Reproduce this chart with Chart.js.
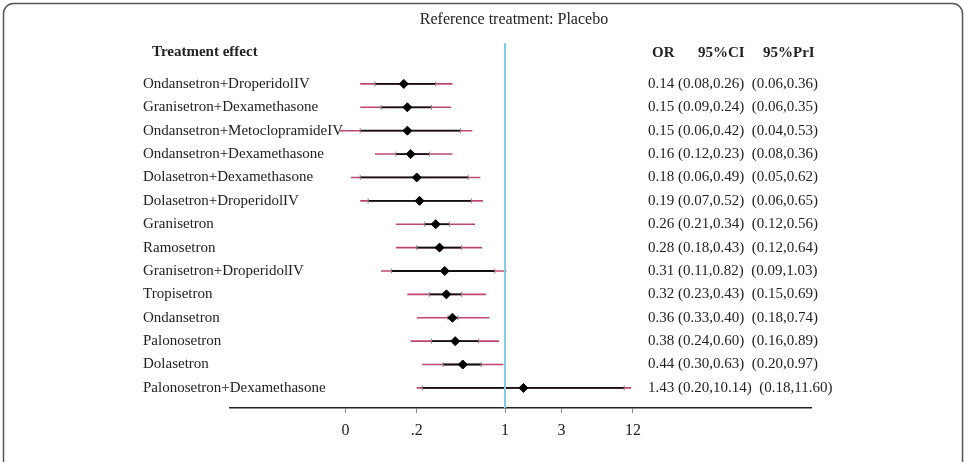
<!DOCTYPE html>
<html>
<head>
<meta charset="utf-8">
<title>Reference treatment: Placebo</title>
<script src="https://cdn.jsdelivr.net/npm/chart.js@4.4.1/dist/chart.umd.min.js"></script>
<style>
    html, body { margin: 0; padding: 0; background: #fff; overflow: hidden; }
    #forest-chart { display: block; }
</style>
</head>
<body>
<canvas id="forest-chart" width="965" height="462"></canvas>
<script>
// Treatments, top to bottom
const treatments = [
    'Ondansetron+DroperidolIV',
    'Granisetron+Dexamethasone',
    'Ondansetron+MetoclopramideIV',
    'Ondansetron+Dexamethasone',
    'Dolasetron+Dexamethasone',
    'Dolasetron+DroperidolIV',
    'Granisetron',
    'Ramosetron',
    'Granisetron+DroperidolIV',
    'Tropisetron',
    'Ondansetron',
    'Palonosetron',
    'Dolasetron',
    'Palonosetron+Dexamethasone'
];

// Odds ratios vs placebo
const oddsRatio = [0.14, 0.15, 0.15, 0.16, 0.18, 0.19, 0.26, 0.28, 0.31, 0.32, 0.36, 0.38, 0.44, 1.43];
// 95% confidence interval
const ciLow  = [0.08, 0.09, 0.06, 0.12, 0.06, 0.07, 0.21, 0.18, 0.11, 0.23, 0.33, 0.24, 0.30, 0.20];
const ciHigh = [0.26, 0.24, 0.42, 0.23, 0.49, 0.52, 0.34, 0.43, 0.82, 0.43, 0.40, 0.60, 0.63, 10.14];
// 95% prediction interval
const priLow  = [0.06, 0.06, 0.04, 0.08, 0.05, 0.06, 0.12, 0.12, 0.09, 0.15, 0.18, 0.16, 0.20, 0.18];
const priHigh = [0.36, 0.35, 0.53, 0.36, 0.62, 0.65, 0.56, 0.64, 1.03, 0.69, 0.74, 0.89, 0.97, 11.60];

// X axis ticks (log scale) and their labels
const tickValues = [0.045, 0.18, 1, 3, 12];
const tickLabels = ['0', '.2', '1', '3', '12'];

const FONT = "'Liberation Serif', 'DejaVu Serif', serif";

// Axis range
const xMin = 0.00478;
const xMax = 382;
const yMin = -1.75;
const yMax = 13.86;

/**
 * Frame, title, headers and the OR / CI / PrI column
 */
const forestText = {
    id: 'forestText',
    beforeDraw(chart) {
        const ctx = chart.ctx;
        ctx.save();
        ctx.fillStyle = '#fff';
        ctx.fillRect(0, 0, chart.width, chart.height);
        ctx.strokeStyle = '#555';
        ctx.lineWidth = 1.5;
        ctx.beginPath();
        ctx.roundRect(3.5, 3.5, 959, 520, 10);
        ctx.stroke();
        ctx.restore();
    },
    afterDatasetsDraw(chart) {
        const ctx = chart.ctx;
        const x = chart.scales.x;
        const y = chart.scales.y;
        ctx.save();
        ctx.fillStyle = '#222';
        ctx.textBaseline = 'middle';

        ctx.font = '16px ' + FONT;
        ctx.textAlign = 'center';
        ctx.fillText('Reference treatment: Placebo', 514, 20);

        ctx.textAlign = 'left';
        ctx.font = 'bold 15px ' + FONT;
        ctx.fillText('Treatment effect', 152, 52);
        ctx.fillText('OR', 652, 53);
        ctx.fillText('95%CI', 698, 53);
        ctx.fillText('95%PrI', 763, 53);

        ctx.font = '15px ' + FONT;
        treatments.forEach((name, i) => {
            const label = oddsRatio[i].toFixed(2) +
                ' (' + ciLow[i].toFixed(2) + ',' + ciHigh[i].toFixed(2) + ')  (' +
                priLow[i].toFixed(2) + ',' + priHigh[i].toFixed(2) + ')';
            const tx = Math.max(648, x.getPixelForValue(priHigh[i]) + 3);
            ctx.fillText(label, tx, y.getPixelForValue(i));
        });
        ctx.restore();
    }
};

// One prediction-interval line and one confidence-interval line per row
const priSets = treatments.map((name, i) => ({
    type: 'line',
    label: name + ' PrI',
    data: [{ x: priLow[i], y: i }, { x: priHigh[i], y: i }],
    borderColor: '#c0466f',
    borderWidth: 1.6,
    pointRadius: 0,
    order: 3
}));

const ciSets = treatments.map((name, i) => ({
    type: 'line',
    label: name + ' CI',
    data: [{ x: ciLow[i], y: i }, { x: ciHigh[i], y: i }],
    borderColor: '#111',
    borderWidth: 1.8,
    pointStyle: 'line',
    pointRotation: 90,
    pointRadius: 2.5,
    pointBorderColor: '#888',
    pointBorderWidth: 1,
    order: 2
}));

const pointSet = {
    type: 'scatter',
    label: 'OR',
    data: oddsRatio.map((v, i) => ({ x: v, y: i })),
    pointStyle: 'rectRot',
    pointRadius: 4.5,
    backgroundColor: '#000',
    borderColor: '#000',
    order: 1
};

const nullLine = {
    type: 'line',
    label: 'No effect',
    data: [{ x: 1, y: yMin }, { x: 1, y: yMax }],
    borderColor: '#86cbe6',
    borderWidth: 2,
    pointRadius: 0,
    order: 0
};

new Chart(document.getElementById('forest-chart'), {
    type: 'scatter',
    data: {
        datasets: [nullLine, pointSet].concat(ciSets, priSets)
    },
    options: {
        responsive: false,
        animation: false,
        devicePixelRatio: 1,
        layout: {
            padding: { left: 143, right: 154, top: 43, bottom: 14 }
        },
        plugins: {
            legend: { display: false },
            tooltip: { enabled: false }
        },
        scales: {
            x: {
                type: 'logarithmic',
                position: 'bottom',
                min: xMin,
                max: xMax,
                afterBuildTicks: function(scale) {
                    scale.ticks = tickValues.map(v => ({ value: v }));
                },
                afterFit: function(scale) {
                    scale.height = 40;
                },
                ticks: {
                    autoSkip: false,
                    maxRotation: 0,
                    padding: 8,
                    color: '#222',
                    font: { family: FONT, size: 16 },
                    callback: function(value, index) {
                        return tickLabels[index];
                    }
                },
                grid: {
                    display: true,
                    drawOnChartArea: false,
                    drawTicks: true,
                    tickLength: 5,
                    color: '#888',
                    lineWidth: 1
                },
                border: { display: true, color: '#222', width: 1.5 }
            },
            y: {
                type: 'linear',
                position: 'left',
                reverse: true,
                min: yMin,
                max: yMax,
                afterBuildTicks: function(scale) {
                    scale.ticks = treatments.map((n, i) => ({ value: i }));
                },
                afterFit: function(scale) {
                    scale.width = 87;
                },
                ticks: {
                    autoSkip: false,
                    mirror: true,
                    crossAlign: 'near',
                    padding: -87,
                    color: '#222',
                    font: { family: FONT, size: 15 },
                    callback: function(value) {
                        return treatments[value];
                    }
                },
                grid: { display: false, drawTicks: false },
                border: { display: false }
            }
        }
    },
    plugins: [forestText]
});
</script>
</body>
</html>
